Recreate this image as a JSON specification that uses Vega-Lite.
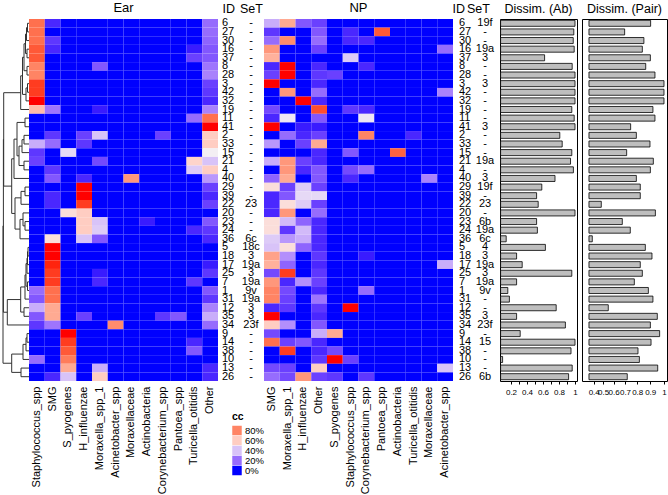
{
"$schema": "https://vega.github.io/schema/vega-lite/v6.json",
"padding": {"left": 0, "top": 2, "right": 0, "bottom": 0},
"spacing": 0,
"bounds": "flush",
"config": {"view": {"stroke": null}, "font": "Liberation Sans", "concat": {"spacing": 0}},
"datasets": {
"rows": [
{"r":1,"id":"6","se":"-","sn":"19f","ab":1.0,"pair":0.903},
{"r":2,"id":"27","se":"-","sn":"-","ab":0.985,"pair":0.697},
{"r":3,"id":"30","se":"-","sn":"-","ab":0.978,"pair":0.852},
{"r":4,"id":"16","se":"-","sn":"19a","ab":0.99,"pair":0.84},
{"r":5,"id":"37","se":"-","sn":"3","ab":0.62,"pair":0.901},
{"r":6,"id":"8","se":"-","sn":"-","ab":0.965,"pair":0.866},
{"r":7,"id":"28","se":"-","sn":"-","ab":1.0,"pair":0.935},
{"r":8,"id":"3","se":"-","sn":"3","ab":1.0,"pair":1.0},
{"r":9,"id":"42","se":"-","sn":"-","ab":1.0,"pair":1.0},
{"r":10,"id":"32","se":"-","sn":"-","ab":1.0,"pair":1.0},
{"r":11,"id":"19","se":"-","sn":"-","ab":0.96,"pair":0.92},
{"r":12,"id":"11","se":"-","sn":"-","ab":0.99,"pair":0.935},
{"r":13,"id":"41","se":"-","sn":"3","ab":1.0,"pair":0.747},
{"r":14,"id":"2","se":"-","sn":"-","ab":0.81,"pair":0.793},
{"r":15,"id":"33","se":"-","sn":"-","ab":0.84,"pair":0.898},
{"r":16,"id":"15","se":"-","sn":"-","ab":0.96,"pair":0.714},
{"r":17,"id":"21","se":"-","sn":"19a","ab":0.944,"pair":0.923},
{"r":18,"id":"4","se":"-","sn":"-","ab":0.98,"pair":0.901},
{"r":19,"id":"40","se":"-","sn":"3","ab":0.75,"pair":0.793},
{"r":20,"id":"29","se":"-","sn":"19f","ab":0.585,"pair":0.824},
{"r":21,"id":"39","se":"-","sn":"-","ab":0.52,"pair":0.824},
{"r":22,"id":"22","se":"23","sn":"23","ab":0.54,"pair":0.481},
{"r":23,"id":"20","se":"-","sn":"-","ab":1.0,"pair":0.938},
{"r":24,"id":"23","se":"-","sn":"6b","ab":0.52,"pair":0.677},
{"r":25,"id":"24","se":"-","sn":"19a","ab":0.53,"pair":0.744},
{"r":26,"id":"36","se":"6c","sn":"6c","ab":0.14,"pair":0.384},
{"r":27,"id":"5","se":"18c","sn":"4","ab":0.63,"pair":0.863},
{"r":28,"id":"18","se":"3","sn":"3","ab":0.27,"pair":0.913},
{"r":29,"id":"17","se":"19a","sn":"19a","ab":0.34,"pair":0.824},
{"r":30,"id":"25","se":"3","sn":"3","ab":0.96,"pair":0.84},
{"r":31,"id":"7","se":"19a","sn":"19a","ab":0.27,"pair":0.777},
{"r":32,"id":"1","se":"9v","sn":"9v","ab":0.16,"pair":0.886},
{"r":33,"id":"31","se":"19a","sn":"-","ab":0.18,"pair":0.92},
{"r":34,"id":"12","se":"3","sn":"-","ab":0.765,"pair":0.55},
{"r":35,"id":"35","se":"3","sn":"3","ab":0.27,"pair":0.952},
{"r":36,"id":"34","se":"23f","sn":"23f","ab":0.88,"pair":0.901},
{"r":37,"id":"9","se":"-","sn":"-","ab":0.315,"pair":0.969},
{"r":38,"id":"14","se":"-","sn":"15","ab":1.0,"pair":0.906},
{"r":39,"id":"38","se":"-","sn":"-","ab":0.95,"pair":0.806},
{"r":40,"id":"10","se":"-","sn":"-","ab":0.095,"pair":0.817},
{"r":41,"id":"13","se":"-","sn":"-","ab":0.965,"pair":0.955},
{"r":42,"id":"26","se":"-","sn":"6b","ab":0.92,"pair":0.719}
],
"ear": [
{"r":1,"Staphylococcus_spp":0.85,"SMG":0.05,"S_pyogenes":0,"H_influenzae":0,"Moraxella_spp_1":0,"Acinetobacter_spp":0,"Moraxellaceae":0,"Actinobacteria":0,"Corynebacterium_spp":0,"Pantoea_spp":0,"Turicella_otitidis":0,"Other":0.2},
{"r":2,"Staphylococcus_spp":0.85,"SMG":0,"S_pyogenes":0,"H_influenzae":0,"Moraxella_spp_1":0,"Acinetobacter_spp":0,"Moraxellaceae":0,"Actinobacteria":0,"Corynebacterium_spp":0,"Pantoea_spp":0,"Turicella_otitidis":0,"Other":0.2},
{"r":3,"Staphylococcus_spp":0.85,"SMG":0.08,"S_pyogenes":0,"H_influenzae":0,"Moraxella_spp_1":0,"Acinetobacter_spp":0,"Moraxellaceae":0,"Actinobacteria":0,"Corynebacterium_spp":0,"Pantoea_spp":0,"Turicella_otitidis":0,"Other":0.18},
{"r":4,"Staphylococcus_spp":0.9,"SMG":0.05,"S_pyogenes":0,"H_influenzae":0,"Moraxella_spp_1":0,"Acinetobacter_spp":0,"Moraxellaceae":0,"Actinobacteria":0,"Corynebacterium_spp":0,"Pantoea_spp":0,"Turicella_otitidis":0.03,"Other":0.15},
{"r":5,"Staphylococcus_spp":0.9,"SMG":0,"S_pyogenes":0,"H_influenzae":0,"Moraxella_spp_1":0,"Acinetobacter_spp":0,"Moraxellaceae":0,"Actinobacteria":0,"Corynebacterium_spp":0,"Pantoea_spp":0,"Turicella_otitidis":0.1,"Other":0.15},
{"r":6,"Staphylococcus_spp":0.8,"SMG":0,"S_pyogenes":0,"H_influenzae":0,"Moraxella_spp_1":0.15,"Acinetobacter_spp":0,"Moraxellaceae":0,"Actinobacteria":0,"Corynebacterium_spp":0,"Pantoea_spp":0,"Turicella_otitidis":0,"Other":0.22},
{"r":7,"Staphylococcus_spp":0.8,"SMG":0,"S_pyogenes":0,"H_influenzae":0,"Moraxella_spp_1":0,"Acinetobacter_spp":0,"Moraxellaceae":0,"Actinobacteria":0,"Corynebacterium_spp":0,"Pantoea_spp":0,"Turicella_otitidis":0,"Other":0.25},
{"r":8,"Staphylococcus_spp":0.95,"SMG":0,"S_pyogenes":0,"H_influenzae":0,"Moraxella_spp_1":0,"Acinetobacter_spp":0,"Moraxellaceae":0,"Actinobacteria":0,"Corynebacterium_spp":0,"Pantoea_spp":0,"Turicella_otitidis":0,"Other":0.1},
{"r":9,"Staphylococcus_spp":0.95,"SMG":0,"S_pyogenes":0,"H_influenzae":0,"Moraxella_spp_1":0,"Acinetobacter_spp":0,"Moraxellaceae":0,"Actinobacteria":0,"Corynebacterium_spp":0,"Pantoea_spp":0,"Turicella_otitidis":0,"Other":0.08},
{"r":10,"Staphylococcus_spp":1.0,"SMG":0,"S_pyogenes":0,"H_influenzae":0,"Moraxella_spp_1":0,"Acinetobacter_spp":0,"Moraxellaceae":0,"Actinobacteria":0,"Corynebacterium_spp":0,"Pantoea_spp":0,"Turicella_otitidis":0,"Other":0.05},
{"r":11,"Staphylococcus_spp":0.65,"SMG":0.22,"S_pyogenes":0,"H_influenzae":0,"Moraxella_spp_1":0.03,"Acinetobacter_spp":0,"Moraxellaceae":0,"Actinobacteria":0,"Corynebacterium_spp":0,"Pantoea_spp":0,"Turicella_otitidis":0,"Other":0.25},
{"r":12,"Staphylococcus_spp":0,"SMG":0,"S_pyogenes":0,"H_influenzae":0,"Moraxella_spp_1":0,"Acinetobacter_spp":0,"Moraxellaceae":0,"Actinobacteria":0,"Corynebacterium_spp":0,"Pantoea_spp":0,"Turicella_otitidis":0.2,"Other":0.85},
{"r":13,"Staphylococcus_spp":0,"SMG":0,"S_pyogenes":0,"H_influenzae":0,"Moraxella_spp_1":0,"Acinetobacter_spp":0,"Moraxellaceae":0,"Actinobacteria":0,"Corynebacterium_spp":0,"Pantoea_spp":0,"Turicella_otitidis":0,"Other":1.0},
{"r":14,"Staphylococcus_spp":0,"SMG":0.08,"S_pyogenes":0,"H_influenzae":0.1,"Moraxella_spp_1":0.4,"Acinetobacter_spp":0,"Moraxellaceae":0,"Actinobacteria":0,"Corynebacterium_spp":0.1,"Pantoea_spp":0,"Turicella_otitidis":0,"Other":0.6},
{"r":15,"Staphylococcus_spp":0.35,"SMG":0.2,"S_pyogenes":0,"H_influenzae":0.08,"Moraxella_spp_1":0,"Acinetobacter_spp":0,"Moraxellaceae":0,"Actinobacteria":0,"Corynebacterium_spp":0,"Pantoea_spp":0,"Turicella_otitidis":0,"Other":0.6},
{"r":16,"Staphylococcus_spp":0.08,"SMG":0,"S_pyogenes":0.45,"H_influenzae":0,"Moraxella_spp_1":0,"Acinetobacter_spp":0,"Moraxellaceae":0,"Actinobacteria":0,"Corynebacterium_spp":0,"Pantoea_spp":0,"Turicella_otitidis":0,"Other":0.5},
{"r":17,"Staphylococcus_spp":0.1,"SMG":0,"S_pyogenes":0,"H_influenzae":0,"Moraxella_spp_1":0.12,"Acinetobacter_spp":0,"Moraxellaceae":0,"Actinobacteria":0,"Corynebacterium_spp":0,"Pantoea_spp":0,"Turicella_otitidis":0.58,"Other":0.4},
{"r":18,"Staphylococcus_spp":0,"SMG":0.08,"S_pyogenes":0,"H_influenzae":0,"Moraxella_spp_1":0,"Acinetobacter_spp":0,"Moraxellaceae":0,"Actinobacteria":0,"Corynebacterium_spp":0,"Pantoea_spp":0,"Turicella_otitidis":0.42,"Other":0.6},
{"r":19,"Staphylococcus_spp":0,"SMG":0.15,"S_pyogenes":0,"H_influenzae":0.05,"Moraxella_spp_1":0,"Acinetobacter_spp":0,"Moraxellaceae":0.75,"Actinobacteria":0,"Corynebacterium_spp":0,"Pantoea_spp":0,"Turicella_otitidis":0,"Other":0.3},
{"r":20,"Staphylococcus_spp":0,"SMG":0,"S_pyogenes":0,"H_influenzae":1.0,"Moraxella_spp_1":0,"Acinetobacter_spp":0,"Moraxellaceae":0,"Actinobacteria":0,"Corynebacterium_spp":0,"Pantoea_spp":0,"Turicella_otitidis":0,"Other":0.1},
{"r":21,"Staphylococcus_spp":0,"SMG":0.05,"S_pyogenes":0,"H_influenzae":1.0,"Moraxella_spp_1":0,"Acinetobacter_spp":0,"Moraxellaceae":0,"Actinobacteria":0,"Corynebacterium_spp":0,"Pantoea_spp":0,"Turicella_otitidis":0,"Other":0.05},
{"r":22,"Staphylococcus_spp":0,"SMG":0.05,"S_pyogenes":0,"H_influenzae":0.95,"Moraxella_spp_1":0,"Acinetobacter_spp":0,"Moraxellaceae":0,"Actinobacteria":0,"Corynebacterium_spp":0,"Pantoea_spp":0,"Turicella_otitidis":0,"Other":0.1},
{"r":23,"Staphylococcus_spp":0,"SMG":0,"S_pyogenes":0.55,"H_influenzae":0.6,"Moraxella_spp_1":0,"Acinetobacter_spp":0,"Moraxellaceae":0,"Actinobacteria":0,"Corynebacterium_spp":0,"Pantoea_spp":0,"Turicella_otitidis":0,"Other":0},
{"r":24,"Staphylococcus_spp":0,"SMG":0,"S_pyogenes":0,"H_influenzae":0.6,"Moraxella_spp_1":0.4,"Acinetobacter_spp":0,"Moraxellaceae":0,"Actinobacteria":0.03,"Corynebacterium_spp":0,"Pantoea_spp":0,"Turicella_otitidis":0,"Other":0.15},
{"r":25,"Staphylococcus_spp":0,"SMG":0,"S_pyogenes":0,"H_influenzae":0.6,"Moraxella_spp_1":0.42,"Acinetobacter_spp":0,"Moraxellaceae":0,"Actinobacteria":0,"Corynebacterium_spp":0,"Pantoea_spp":0,"Turicella_otitidis":0.05,"Other":0.08},
{"r":26,"Staphylococcus_spp":0,"SMG":0.55,"S_pyogenes":0,"H_influenzae":0.4,"Moraxella_spp_1":0.15,"Acinetobacter_spp":0,"Moraxellaceae":0,"Actinobacteria":0,"Corynebacterium_spp":0,"Pantoea_spp":0,"Turicella_otitidis":0,"Other":0.05},
{"r":27,"Staphylococcus_spp":0,"SMG":1.0,"S_pyogenes":0,"H_influenzae":0,"Moraxella_spp_1":0,"Acinetobacter_spp":0,"Moraxellaceae":0,"Actinobacteria":0,"Corynebacterium_spp":0,"Pantoea_spp":0,"Turicella_otitidis":0,"Other":0},
{"r":28,"Staphylococcus_spp":0,"SMG":1.0,"S_pyogenes":0,"H_influenzae":0,"Moraxella_spp_1":0,"Acinetobacter_spp":0,"Moraxellaceae":0,"Actinobacteria":0,"Corynebacterium_spp":0,"Pantoea_spp":0,"Turicella_otitidis":0,"Other":0},
{"r":29,"Staphylococcus_spp":0,"SMG":0.98,"S_pyogenes":0,"H_influenzae":0,"Moraxella_spp_1":0,"Acinetobacter_spp":0,"Moraxellaceae":0,"Actinobacteria":0,"Corynebacterium_spp":0,"Pantoea_spp":0,"Turicella_otitidis":0,"Other":0.03},
{"r":30,"Staphylococcus_spp":0,"SMG":0.95,"S_pyogenes":0,"H_influenzae":0,"Moraxella_spp_1":0.03,"Acinetobacter_spp":0,"Moraxellaceae":0,"Actinobacteria":0,"Corynebacterium_spp":0,"Pantoea_spp":0,"Turicella_otitidis":0,"Other":0.08},
{"r":31,"Staphylococcus_spp":0,"SMG":0.95,"S_pyogenes":0,"H_influenzae":0,"Moraxella_spp_1":0.05,"Acinetobacter_spp":0,"Moraxellaceae":0,"Actinobacteria":0,"Corynebacterium_spp":0,"Pantoea_spp":0,"Turicella_otitidis":0.08,"Other":0},
{"r":32,"Staphylococcus_spp":0.2,"SMG":0.85,"S_pyogenes":0,"H_influenzae":0,"Moraxella_spp_1":0,"Acinetobacter_spp":0,"Moraxellaceae":0,"Actinobacteria":0,"Corynebacterium_spp":0,"Pantoea_spp":0,"Turicella_otitidis":0,"Other":0.15},
{"r":33,"Staphylococcus_spp":0.15,"SMG":0.85,"S_pyogenes":0,"H_influenzae":0,"Moraxella_spp_1":0,"Acinetobacter_spp":0,"Moraxellaceae":0,"Actinobacteria":0,"Corynebacterium_spp":0,"Pantoea_spp":0,"Turicella_otitidis":0,"Other":0.08},
{"r":34,"Staphylococcus_spp":0.35,"SMG":0.7,"S_pyogenes":0,"H_influenzae":0,"Moraxella_spp_1":0,"Acinetobacter_spp":0,"Moraxellaceae":0,"Actinobacteria":0,"Corynebacterium_spp":0,"Pantoea_spp":0,"Turicella_otitidis":0,"Other":0.25},
{"r":35,"Staphylococcus_spp":0.15,"SMG":0.7,"S_pyogenes":0,"H_influenzae":0.1,"Moraxella_spp_1":0,"Acinetobacter_spp":0,"Moraxellaceae":0,"Actinobacteria":0,"Corynebacterium_spp":0.08,"Pantoea_spp":0.15,"Turicella_otitidis":0,"Other":0.35},
{"r":36,"Staphylococcus_spp":0.08,"SMG":0.22,"S_pyogenes":0,"H_influenzae":0,"Moraxella_spp_1":0,"Acinetobacter_spp":0.78,"Moraxellaceae":0,"Actinobacteria":0,"Corynebacterium_spp":0,"Pantoea_spp":0,"Turicella_otitidis":0,"Other":0.2},
{"r":37,"Staphylococcus_spp":0,"SMG":0,"S_pyogenes":1.0,"H_influenzae":0,"Moraxella_spp_1":0,"Acinetobacter_spp":0,"Moraxellaceae":0,"Actinobacteria":0,"Corynebacterium_spp":0,"Pantoea_spp":0,"Turicella_otitidis":0,"Other":0},
{"r":38,"Staphylococcus_spp":0,"SMG":0,"S_pyogenes":0.95,"H_influenzae":0,"Moraxella_spp_1":0,"Acinetobacter_spp":0,"Moraxellaceae":0,"Actinobacteria":0,"Corynebacterium_spp":0,"Pantoea_spp":0,"Turicella_otitidis":0.05,"Other":0},
{"r":39,"Staphylococcus_spp":0,"SMG":0,"S_pyogenes":0.9,"H_influenzae":0,"Moraxella_spp_1":0,"Acinetobacter_spp":0,"Moraxellaceae":0,"Actinobacteria":0,"Corynebacterium_spp":0,"Pantoea_spp":0,"Turicella_otitidis":0.15,"Other":0},
{"r":40,"Staphylococcus_spp":0.2,"SMG":0,"S_pyogenes":0.82,"H_influenzae":0,"Moraxella_spp_1":0,"Acinetobacter_spp":0,"Moraxellaceae":0,"Actinobacteria":0,"Corynebacterium_spp":0,"Pantoea_spp":0,"Turicella_otitidis":0,"Other":0},
{"r":41,"Staphylococcus_spp":0,"SMG":0,"S_pyogenes":0.7,"H_influenzae":0,"Moraxella_spp_1":0.35,"Acinetobacter_spp":0,"Moraxellaceae":0,"Actinobacteria":0,"Corynebacterium_spp":0,"Pantoea_spp":0,"Turicella_otitidis":0,"Other":0.05},
{"r":42,"Staphylococcus_spp":0,"SMG":0.05,"S_pyogenes":0.4,"H_influenzae":0,"Moraxella_spp_1":0.6,"Acinetobacter_spp":0,"Moraxellaceae":0,"Actinobacteria":0,"Corynebacterium_spp":0,"Pantoea_spp":0,"Turicella_otitidis":0,"Other":0.05}
],
"np": [
{"r":1,"SMG":0.35,"Moraxella_spp_1":0.7,"H_influenzae":0.15,"Other":0.1,"S_pyogenes":0,"Staphylococcus_spp":0,"Corynebacterium_spp":0,"Pantoea_spp":0,"Actinobacteria":0,"Turicella_otitidis":0,"Moraxellaceae":0,"Acinetobacter_spp":0},
{"r":2,"SMG":0.08,"Moraxella_spp_1":0,"H_influenzae":0,"Other":0.15,"S_pyogenes":0,"Staphylococcus_spp":0.05,"Corynebacterium_spp":0,"Pantoea_spp":0.9,"Actinobacteria":0,"Turicella_otitidis":0,"Moraxellaceae":0,"Acinetobacter_spp":0},
{"r":3,"SMG":0.2,"Moraxella_spp_1":0.78,"H_influenzae":0,"Other":0.2,"S_pyogenes":0,"Staphylococcus_spp":0.05,"Corynebacterium_spp":0.05,"Pantoea_spp":0,"Actinobacteria":0,"Turicella_otitidis":0,"Moraxellaceae":0,"Acinetobacter_spp":0},
{"r":4,"SMG":0.75,"Moraxella_spp_1":0,"H_influenzae":0,"Other":0.1,"S_pyogenes":0,"Staphylococcus_spp":0,"Corynebacterium_spp":0,"Pantoea_spp":0,"Actinobacteria":0,"Turicella_otitidis":0,"Moraxellaceae":0,"Acinetobacter_spp":0.2},
{"r":5,"SMG":0.68,"Moraxella_spp_1":0,"H_influenzae":0,"Other":0,"S_pyogenes":0,"Staphylococcus_spp":0.42,"Corynebacterium_spp":0,"Pantoea_spp":0,"Actinobacteria":0,"Turicella_otitidis":0,"Moraxellaceae":0,"Acinetobacter_spp":0},
{"r":6,"SMG":0.05,"Moraxella_spp_1":1.0,"H_influenzae":0,"Other":0.05,"S_pyogenes":0,"Staphylococcus_spp":0,"Corynebacterium_spp":0.05,"Pantoea_spp":0,"Actinobacteria":0,"Turicella_otitidis":0,"Moraxellaceae":0,"Acinetobacter_spp":0},
{"r":7,"SMG":0.1,"Moraxella_spp_1":1.0,"H_influenzae":0,"Other":0.08,"S_pyogenes":0.1,"Staphylococcus_spp":0,"Corynebacterium_spp":0,"Pantoea_spp":0,"Actinobacteria":0,"Turicella_otitidis":0,"Moraxellaceae":0,"Acinetobacter_spp":0},
{"r":8,"SMG":1.0,"Moraxella_spp_1":0,"H_influenzae":0,"Other":0.05,"S_pyogenes":0,"Staphylococcus_spp":0,"Corynebacterium_spp":0,"Pantoea_spp":0,"Actinobacteria":0,"Turicella_otitidis":0,"Moraxellaceae":0,"Acinetobacter_spp":0},
{"r":9,"SMG":0,"Moraxella_spp_1":0.75,"H_influenzae":0,"Other":0.2,"S_pyogenes":0,"Staphylococcus_spp":0,"Corynebacterium_spp":0,"Pantoea_spp":0,"Actinobacteria":0,"Turicella_otitidis":0,"Moraxellaceae":0,"Acinetobacter_spp":0.25},
{"r":10,"SMG":0,"Moraxella_spp_1":0,"H_influenzae":1.0,"Other":0.05,"S_pyogenes":0,"Staphylococcus_spp":0,"Corynebacterium_spp":0,"Pantoea_spp":0,"Actinobacteria":0,"Turicella_otitidis":0,"Moraxellaceae":0,"Acinetobacter_spp":0},
{"r":11,"SMG":0.12,"Moraxella_spp_1":0,"H_influenzae":0,"Other":0.92,"S_pyogenes":0,"Staphylococcus_spp":0.08,"Corynebacterium_spp":0.05,"Pantoea_spp":0,"Actinobacteria":0,"Turicella_otitidis":0,"Moraxellaceae":0,"Acinetobacter_spp":0},
{"r":12,"SMG":0.05,"Moraxella_spp_1":0.48,"H_influenzae":0,"Other":0.15,"S_pyogenes":0,"Staphylococcus_spp":0,"Corynebacterium_spp":0.48,"Pantoea_spp":0,"Actinobacteria":0,"Turicella_otitidis":0,"Moraxellaceae":0,"Acinetobacter_spp":0},
{"r":13,"SMG":1.0,"Moraxella_spp_1":0,"H_influenzae":0.03,"Other":0.03,"S_pyogenes":0,"Staphylococcus_spp":0,"Corynebacterium_spp":0,"Pantoea_spp":0,"Actinobacteria":0,"Turicella_otitidis":0,"Moraxellaceae":0,"Acinetobacter_spp":0},
{"r":14,"SMG":0,"Moraxella_spp_1":0.2,"H_influenzae":0.05,"Other":0.1,"S_pyogenes":0,"Staphylococcus_spp":0,"Corynebacterium_spp":0.8,"Pantoea_spp":0,"Actinobacteria":0,"Turicella_otitidis":0.05,"Moraxellaceae":0,"Acinetobacter_spp":0},
{"r":15,"SMG":0.3,"Moraxella_spp_1":0,"H_influenzae":0.1,"Other":0.7,"S_pyogenes":0,"Staphylococcus_spp":0,"Corynebacterium_spp":0,"Pantoea_spp":0,"Actinobacteria":0,"Turicella_otitidis":0,"Moraxellaceae":0,"Acinetobacter_spp":0},
{"r":16,"SMG":0,"Moraxella_spp_1":0,"H_influenzae":0,"Other":0.05,"S_pyogenes":0,"Staphylococcus_spp":0.15,"Corynebacterium_spp":0,"Pantoea_spp":0,"Actinobacteria":0.88,"Turicella_otitidis":0,"Moraxellaceae":0,"Acinetobacter_spp":0},
{"r":17,"SMG":0.35,"Moraxella_spp_1":0.75,"H_influenzae":0.1,"Other":0.05,"S_pyogenes":0,"Staphylococcus_spp":0,"Corynebacterium_spp":0,"Pantoea_spp":0,"Actinobacteria":0,"Turicella_otitidis":0,"Moraxellaceae":0,"Acinetobacter_spp":0},
{"r":18,"SMG":0,"Moraxella_spp_1":0.75,"H_influenzae":0.05,"Other":0.15,"S_pyogenes":0,"Staphylococcus_spp":0.12,"Corynebacterium_spp":0.2,"Pantoea_spp":0,"Actinobacteria":0,"Turicella_otitidis":0,"Moraxellaceae":0,"Acinetobacter_spp":0},
{"r":19,"SMG":0.18,"Moraxella_spp_1":0.7,"H_influenzae":0,"Other":0.15,"S_pyogenes":0,"Staphylococcus_spp":0.05,"Corynebacterium_spp":0,"Pantoea_spp":0,"Actinobacteria":0,"Turicella_otitidis":0,"Moraxellaceae":0.25,"Acinetobacter_spp":0},
{"r":20,"SMG":0.55,"Moraxella_spp_1":0.1,"H_influenzae":0.42,"Other":0.1,"S_pyogenes":0,"Staphylococcus_spp":0,"Corynebacterium_spp":0,"Pantoea_spp":0,"Actinobacteria":0,"Turicella_otitidis":0,"Moraxellaceae":0,"Acinetobacter_spp":0},
{"r":21,"SMG":0.05,"Moraxella_spp_1":0.15,"H_influenzae":0.45,"Other":0.45,"S_pyogenes":0,"Staphylococcus_spp":0,"Corynebacterium_spp":0,"Pantoea_spp":0,"Actinobacteria":0,"Turicella_otitidis":0,"Moraxellaceae":0,"Acinetobacter_spp":0},
{"r":22,"SMG":0.05,"Moraxella_spp_1":0.55,"H_influenzae":0.42,"Other":0.1,"S_pyogenes":0,"Staphylococcus_spp":0,"Corynebacterium_spp":0,"Pantoea_spp":0,"Actinobacteria":0,"Turicella_otitidis":0,"Moraxellaceae":0,"Acinetobacter_spp":0},
{"r":23,"SMG":0.05,"Moraxella_spp_1":0.75,"H_influenzae":0,"Other":0.2,"S_pyogenes":0,"Staphylococcus_spp":0,"Corynebacterium_spp":0,"Pantoea_spp":0,"Actinobacteria":0,"Turicella_otitidis":0,"Moraxellaceae":0,"Acinetobacter_spp":0},
{"r":24,"SMG":0.55,"Moraxella_spp_1":0.38,"H_influenzae":0.18,"Other":0.05,"S_pyogenes":0,"Staphylococcus_spp":0,"Corynebacterium_spp":0,"Pantoea_spp":0,"Actinobacteria":0,"Turicella_otitidis":0,"Moraxellaceae":0,"Acinetobacter_spp":0},
{"r":25,"SMG":0.55,"Moraxella_spp_1":0.08,"H_influenzae":0.38,"Other":0.05,"S_pyogenes":0,"Staphylococcus_spp":0,"Corynebacterium_spp":0,"Pantoea_spp":0,"Actinobacteria":0,"Turicella_otitidis":0,"Moraxellaceae":0,"Acinetobacter_spp":0},
{"r":26,"SMG":0.42,"Moraxella_spp_1":0.3,"H_influenzae":0.35,"Other":0.05,"S_pyogenes":0,"Staphylococcus_spp":0,"Corynebacterium_spp":0,"Pantoea_spp":0,"Actinobacteria":0,"Turicella_otitidis":0,"Moraxellaceae":0,"Acinetobacter_spp":0},
{"r":27,"SMG":0.4,"Moraxella_spp_1":0.55,"H_influenzae":0.18,"Other":0.05,"S_pyogenes":0,"Staphylococcus_spp":0,"Corynebacterium_spp":0,"Pantoea_spp":0,"Actinobacteria":0,"Turicella_otitidis":0,"Moraxellaceae":0,"Acinetobacter_spp":0},
{"r":28,"SMG":0.72,"Moraxella_spp_1":0.28,"H_influenzae":0,"Other":0.08,"S_pyogenes":0,"Staphylococcus_spp":0,"Corynebacterium_spp":0.03,"Pantoea_spp":0,"Actinobacteria":0,"Turicella_otitidis":0,"Moraxellaceae":0,"Acinetobacter_spp":0},
{"r":29,"SMG":0.68,"Moraxella_spp_1":0.18,"H_influenzae":0,"Other":0.05,"S_pyogenes":0,"Staphylococcus_spp":0,"Corynebacterium_spp":0,"Pantoea_spp":0,"Actinobacteria":0,"Turicella_otitidis":0,"Moraxellaceae":0,"Acinetobacter_spp":0.35},
{"r":30,"SMG":0.12,"Moraxella_spp_1":0.95,"H_influenzae":0,"Other":0.08,"S_pyogenes":0,"Staphylococcus_spp":0,"Corynebacterium_spp":0,"Pantoea_spp":0,"Actinobacteria":0,"Turicella_otitidis":0,"Moraxellaceae":0,"Acinetobacter_spp":0},
{"r":31,"SMG":0.75,"Moraxella_spp_1":0.05,"H_influenzae":0.28,"Other":0.1,"S_pyogenes":0,"Staphylococcus_spp":0,"Corynebacterium_spp":0,"Pantoea_spp":0,"Actinobacteria":0,"Turicella_otitidis":0,"Moraxellaceae":0,"Acinetobacter_spp":0},
{"r":32,"SMG":0.8,"Moraxella_spp_1":0.12,"H_influenzae":0,"Other":0.05,"S_pyogenes":0,"Staphylococcus_spp":0,"Corynebacterium_spp":0.2,"Pantoea_spp":0,"Actinobacteria":0,"Turicella_otitidis":0,"Moraxellaceae":0,"Acinetobacter_spp":0},
{"r":33,"SMG":0.8,"Moraxella_spp_1":0.1,"H_influenzae":0,"Other":0.22,"S_pyogenes":0,"Staphylococcus_spp":0,"Corynebacterium_spp":0,"Pantoea_spp":0,"Actinobacteria":0,"Turicella_otitidis":0,"Moraxellaceae":0,"Acinetobacter_spp":0},
{"r":34,"SMG":0.05,"Moraxella_spp_1":0.08,"H_influenzae":0,"Other":0.08,"S_pyogenes":0,"Staphylococcus_spp":1.0,"Corynebacterium_spp":0,"Pantoea_spp":0,"Actinobacteria":0,"Turicella_otitidis":0,"Moraxellaceae":0,"Acinetobacter_spp":0},
{"r":35,"SMG":1.0,"Moraxella_spp_1":0,"H_influenzae":0,"Other":0.05,"S_pyogenes":0,"Staphylococcus_spp":0,"Corynebacterium_spp":0,"Pantoea_spp":0,"Actinobacteria":0,"Turicella_otitidis":0,"Moraxellaceae":0,"Acinetobacter_spp":0},
{"r":36,"SMG":0.6,"Moraxella_spp_1":0.28,"H_influenzae":0,"Other":0.15,"S_pyogenes":0,"Staphylococcus_spp":0,"Corynebacterium_spp":0,"Pantoea_spp":0,"Actinobacteria":0,"Turicella_otitidis":0,"Moraxellaceae":0,"Acinetobacter_spp":0},
{"r":37,"SMG":0.12,"Moraxella_spp_1":0,"H_influenzae":0,"Other":0.35,"S_pyogenes":0.7,"Staphylococcus_spp":0,"Corynebacterium_spp":0,"Pantoea_spp":0,"Actinobacteria":0,"Turicella_otitidis":0,"Moraxellaceae":0,"Acinetobacter_spp":0},
{"r":38,"SMG":0.85,"Moraxella_spp_1":0.1,"H_influenzae":0.15,"Other":0.05,"S_pyogenes":0,"Staphylococcus_spp":0,"Corynebacterium_spp":0,"Pantoea_spp":0,"Actinobacteria":0,"Turicella_otitidis":0,"Moraxellaceae":0,"Acinetobacter_spp":0},
{"r":39,"SMG":0,"Moraxella_spp_1":0.95,"H_influenzae":0,"Other":0.05,"S_pyogenes":0.12,"Staphylococcus_spp":0,"Corynebacterium_spp":0,"Pantoea_spp":0,"Actinobacteria":0,"Turicella_otitidis":0,"Moraxellaceae":0,"Acinetobacter_spp":0},
{"r":40,"SMG":0,"Moraxella_spp_1":0,"H_influenzae":0,"Other":0.08,"S_pyogenes":1.0,"Staphylococcus_spp":0.1,"Corynebacterium_spp":0,"Pantoea_spp":0,"Actinobacteria":0,"Turicella_otitidis":0,"Moraxellaceae":0,"Acinetobacter_spp":0},
{"r":41,"SMG":0.12,"Moraxella_spp_1":0.1,"H_influenzae":0,"Other":0.6,"S_pyogenes":0,"Staphylococcus_spp":0,"Corynebacterium_spp":0,"Pantoea_spp":0,"Actinobacteria":0,"Turicella_otitidis":0,"Moraxellaceae":0,"Acinetobacter_spp":0.4},
{"r":42,"SMG":0.2,"Moraxella_spp_1":0.12,"H_influenzae":0.75,"Other":0.1,"S_pyogenes":0.08,"Staphylococcus_spp":0,"Corynebacterium_spp":0.08,"Pantoea_spp":0,"Actinobacteria":0,"Turicella_otitidis":0,"Moraxellaceae":0,"Acinetobacter_spp":0}
],
"tree": [
{"h":1.5,"hl":0,"cl":0.5,"hr":0,"cr":1.5},
{"h":2.5,"hl":1.5,"cl":1.0,"hr":0,"cr":2.5},
{"h":2,"hl":0,"cl":3.5,"hr":0,"cr":4.5},
{"h":3.5,"hl":2.5,"cl":1.75,"hr":2,"cr":4.0},
{"h":2,"hl":0,"cl":5.5,"hr":0,"cr":6.5},
{"h":5,"hl":3.5,"cl":2.875,"hr":2,"cr":6.0},
{"h":1.5,"hl":0,"cl":7.5,"hr":0,"cr":8.5},
{"h":3,"hl":1.5,"cl":8.0,"hr":0,"cr":9.5},
{"h":6.5,"hl":5,"cl":4.44,"hr":3,"cr":8.75},
{"h":8.3,"hl":6.5,"cl":6.59,"hr":0,"cr":10.5},
{"h":4,"hl":0,"cl":11.5,"hr":0,"cr":12.5},
{"h":5,"hl":0,"cl":13.5,"hr":0,"cr":14.5},
{"h":7,"hl":5,"cl":14.0,"hr":0,"cr":15.5},
{"h":5,"hl":0,"cl":16.5,"hr":0,"cr":17.5},
{"h":10,"hl":7,"cl":14.75,"hr":5,"cr":17.0},
{"h":12,"hl":4,"cl":12.0,"hr":10,"cr":15.875},
{"h":15,"hl":12,"cl":13.94,"hr":0,"cr":18.5},
{"h":4,"hl":0,"cl":19.5,"hr":0,"cr":20.5},
{"h":8,"hl":4,"cl":20.0,"hr":0,"cr":21.5},
{"h":4,"hl":0,"cl":23.5,"hr":0,"cr":24.5},
{"h":6,"hl":0,"cl":22.5,"hr":4,"cr":24.0},
{"h":9,"hl":6,"cl":23.25,"hr":0,"cr":25.5},
{"h":14,"hl":8,"cl":20.75,"hr":9,"cr":24.375},
{"h":17.3,"hl":15,"cl":16.22,"hr":14,"cr":22.56},
{"h":1,"hl":0,"cl":26.5,"hr":0,"cr":27.5},
{"h":1.5,"hl":1,"cl":27.0,"hr":0,"cr":28.5},
{"h":2,"hl":1.5,"cl":27.75,"hr":0,"cr":29.5},
{"h":1.5,"hl":0,"cl":30.5,"hr":0,"cr":31.5},
{"h":3,"hl":2,"cl":28.375,"hr":1.5,"cr":31.0},
{"h":4,"hl":3,"cl":29.69,"hr":0,"cr":32.5},
{"h":5,"hl":0,"cl":33.5,"hr":0,"cr":34.5},
{"h":8.3,"hl":4,"cl":31.09,"hr":5,"cr":34.0},
{"h":21.7,"hl":8.3,"cl":32.55,"hr":0,"cr":35.5},
{"h":2,"hl":0,"cl":36.5,"hr":0,"cr":37.5},
{"h":3,"hl":2,"cl":37.0,"hr":0,"cr":38.5},
{"h":6,"hl":3,"cl":37.75,"hr":0,"cr":39.5},
{"h":8,"hl":0,"cl":40.5,"hr":0,"cr":41.5},
{"h":17.3,"hl":6,"cl":38.875,"hr":8,"cr":41.0},
{"h":25.3,"hl":8.3,"cl":8.55,"hr":17.3,"cr":19.39},
{"h":25.6,"hl":25.3,"cl":13.97,"hr":21.7,"cr":34.02},
{"h":26,"hl":25.6,"cl":24.0,"hr":17.3,"cr":39.94}
]
},
"hconcat": [
{
"width": 29, "height": 362,
"data": {"name": "tree"},
"layer": [
{"mark": {"type": "rule", "color": "#333333", "strokeWidth": 1},
 "encoding": {"x": {"field": "h", "type": "quantitative", "scale": {"domain": [0, 29], "reverse": true, "nice": false}, "axis": null},
  "y": {"field": "cl", "type": "quantitative", "scale": {"domain": [0, 42], "reverse": true, "nice": false, "zero": false}, "axis": null},
  "y2": {"field": "cr"}}},
{"mark": {"type": "rule", "color": "#333333", "strokeWidth": 1},
 "encoding": {"x": {"field": "hl", "type": "quantitative"}, "x2": {"field": "h"}, "y": {"field": "cl", "type": "quantitative"}}},
{"mark": {"type": "rule", "color": "#333333", "strokeWidth": 1},
 "encoding": {"x": {"field": "hr", "type": "quantitative"}, "x2": {"field": "h"}, "y": {"field": "cr", "type": "quantitative"}}}
]
},
{
"width": 189, "height": 362,
"title": {"text": "Ear", "fontSize": 13, "fontWeight": "normal", "font": "Liberation Sans", "offset": 4},
"data": {"name": "ear"},
"transform": [{"fold": ["Staphylococcus_spp","SMG","S_pyogenes","H_influenzae","Moraxella_spp_1","Acinetobacter_spp","Moraxellaceae","Actinobacteria","Corynebacterium_spp","Pantoea_spp","Turicella_otitidis","Other"], "as": ["taxon", "v"]}],
"mark": {"type": "rect"},
"encoding": {
 "x": {"field": "taxon", "type": "nominal", "scale": {"domain": ["Staphylococcus_spp","SMG","S_pyogenes","H_influenzae","Moraxella_spp_1","Acinetobacter_spp","Moraxellaceae","Actinobacteria","Corynebacterium_spp","Pantoea_spp","Turicella_otitidis","Other"], "paddingInner": 0, "paddingOuter": 0},
  "axis": {"title": null, "orient": "bottom", "labelAngle": -90, "labelAlign": "right", "labelBaseline": "middle", "ticks": false, "domain": false, "labelPadding": 5, "labelFontSize": 11, "labelFont": "Liberation Sans", "labelColor": "#000000"}},
 "y": {"field": "r", "type": "ordinal", "scale": {"paddingInner": 0, "paddingOuter": 0}, "axis": null},
 "color": {"field": "v", "type": "quantitative", "scale": {"domain": [0, 0.5, 1], "range": ["#0000ff", "#f3eff3", "#ff0000"], "interpolate": "lab"},
  "legend": {"type": "symbol", "orient": "none", "legendX": 232, "legendY": 393, "values": [0.8, 0.6, 0.4, 0.2, 0], "format": ".0%", "title": "cc", "titleFontSize": 10.5, "titleFontWeight": "bold", "titleFont": "Liberation Sans", "titlePadding": 3, "symbolType": "square", "symbolSize": 90, "symbolStrokeWidth": 0, "labelFontSize": 9.5, "labelFont": "Liberation Sans", "rowPadding": 0, "labelOffset": 3, "direction": "vertical"}}
}
},
{
"width": 46, "height": 362,
"data": {"name": "rows"},
"layer": [
{"mark": {"type": "text", "align": "left", "baseline": "middle", "fontSize": 11, "font": "Liberation Sans"},
 "encoding": {"x": {"datum": "ID", "type": "nominal", "scale": {"type": "point", "domain": ["ID", "SeT"], "range": [4, 33], "padding": 0},
   "axis": {"orient": "top", "title": null, "ticks": false, "domain": false, "labelAngle": 0, "labelFontSize": 12.5, "labelFont": "Liberation Sans", "labelColor": "#000000", "labelPadding": 4, "labelAlign": {"condition": {"test": "datum.value == 'ID'", "value": "left"}, "value": "center"}}},
  "y": {"field": "r", "type": "ordinal", "axis": null},
  "text": {"field": "id"}}},
{"mark": {"type": "text", "align": "center", "baseline": "middle", "fontSize": 11, "font": "Liberation Sans"},
 "encoding": {"x": {"datum": "SeT", "type": "nominal"},
  "y": {"field": "r", "type": "ordinal", "axis": null},
  "text": {"field": "se"}}}
]
},
{
"width": 189, "height": 362,
"title": {"text": "NP", "fontSize": 13, "fontWeight": "normal", "font": "Liberation Sans", "offset": 4},
"data": {"name": "np"},
"transform": [{"fold": ["SMG","Moraxella_spp_1","H_influenzae","Other","S_pyogenes","Staphylococcus_spp","Corynebacterium_spp","Pantoea_spp","Actinobacteria","Turicella_otitidis","Moraxellaceae","Acinetobacter_spp"], "as": ["taxon", "v"]}],
"mark": {"type": "rect"},
"encoding": {
 "x": {"field": "taxon", "type": "nominal", "scale": {"domain": ["SMG","Moraxella_spp_1","H_influenzae","Other","S_pyogenes","Staphylococcus_spp","Corynebacterium_spp","Pantoea_spp","Actinobacteria","Turicella_otitidis","Moraxellaceae","Acinetobacter_spp"], "paddingInner": 0, "paddingOuter": 0},
  "axis": {"title": null, "orient": "bottom", "labelAngle": -90, "labelAlign": "right", "labelBaseline": "middle", "ticks": false, "domain": false, "labelPadding": 5, "labelFontSize": 11, "labelFont": "Liberation Sans", "labelColor": "#000000"}},
 "y": {"field": "r", "type": "ordinal", "scale": {"paddingInner": 0, "paddingOuter": 0}, "axis": null},
 "color": {"field": "v", "type": "quantitative",
  "legend": {"type": "symbol", "orient": "none", "legendX": 232, "legendY": 393, "values": [0.8, 0.6, 0.4, 0.2, 0], "format": ".0%", "title": "cc", "titleFontSize": 10.5, "titleFontWeight": "bold", "titleFont": "Liberation Sans", "titlePadding": 3, "symbolType": "square", "symbolSize": 90, "symbolStrokeWidth": 0, "labelFontSize": 9.5, "labelFont": "Liberation Sans", "rowPadding": 0, "labelOffset": 3, "direction": "vertical"}}
}
},
{
"width": 47, "height": 362,
"data": {"name": "rows"},
"layer": [
{"mark": {"type": "text", "align": "left", "baseline": "middle", "fontSize": 11, "font": "Liberation Sans"},
 "encoding": {"x": {"datum": "ID", "type": "nominal", "scale": {"type": "point", "domain": ["ID", "SeT"], "range": [6, 32], "padding": 0},
   "axis": {"orient": "top", "title": null, "ticks": false, "domain": false, "labelAngle": 0, "labelFontSize": 12.5, "labelFont": "Liberation Sans", "labelColor": "#000000", "labelPadding": 4, "labelOffset": -7, "labelAlign": {"condition": {"test": "datum.value == 'ID'", "value": "left"}, "value": "center"}}},
  "y": {"field": "r", "type": "ordinal", "axis": null},
  "text": {"field": "id"}}},
{"mark": {"type": "text", "align": "center", "baseline": "middle", "fontSize": 11, "font": "Liberation Sans"},
 "encoding": {"x": {"datum": "SeT", "type": "nominal"},
  "y": {"field": "r", "type": "ordinal", "axis": null},
  "text": {"field": "sn"}}}
]
},
{
"hconcat": [
{
"width": 77, "height": 362,
"view": {"stroke": "#000000", "strokeWidth": 1},
"title": {"text": "Dissim. (Ab)", "fontSize": 12.5, "fontWeight": "normal", "font": "Liberation Sans", "offset": 4},
"data": {"name": "rows"},
"mark": {"type": "bar", "fill": "#bebebe", "stroke": "#000000", "strokeWidth": 0.8},
"encoding": {
 "y": {"field": "r", "type": "ordinal", "scale": {"paddingInner": 0.3, "paddingOuter": 0.15}, "axis": null},
 "x": {"field": "ab", "type": "quantitative", "scale": {"domain": [0.0625, 1.025], "zero": false, "nice": false},
  "axis": {"title": null, "values": [0.2, 0.3, 0.4, 0.5, 0.6, 0.7, 0.8, 0.9, 1.0], "labelExpr": "round(datum.value*10) % 2 == 0 ? (datum.value == 1 ? '1' : format(datum.value, '.1f')) : ''", "labelOverlap": false, "tickSize": 3, "tickColor": "#000000", "domain": false, "grid": false, "labelFontSize": 8, "labelFont": "Liberation Sans", "labelColor": "#000000", "labelPadding": 4}},
 "x2": {"datum": 0.07}
}
},
{
"width": 85, "height": 362,
"view": {"stroke": "#000000", "strokeWidth": 1},
"title": {"text": "Dissim. (Pair)", "fontSize": 12.5, "fontWeight": "normal", "font": "Liberation Sans", "offset": 4},
"data": {"name": "rows"},
"mark": {"type": "bar", "fill": "#bebebe", "stroke": "#000000", "strokeWidth": 0.8},
"encoding": {
 "y": {"field": "r", "type": "ordinal", "scale": {"paddingInner": 0.3, "paddingOuter": 0.15}, "axis": null},
 "x": {"field": "pair", "type": "quantitative", "scale": {"type": "pow", "exponent": 1.5, "domain": [0.2548, 1.0212], "zero": false, "nice": false},
  "axis": {"title": null, "values": [0.4, 0.5, 0.6, 0.7, 0.8, 0.9, 1.0], "labelExpr": "datum.value == 1 ? '1' : format(datum.value, '.1f')", "labelOverlap": false, "tickSize": 3, "tickColor": "#000000", "domain": false, "grid": false, "labelFontSize": 8, "labelFont": "Liberation Sans", "labelColor": "#000000", "labelPadding": 4}},
 "x2": {"datum": 0.345}
}
}
],
"spacing": 3
}
]
}
